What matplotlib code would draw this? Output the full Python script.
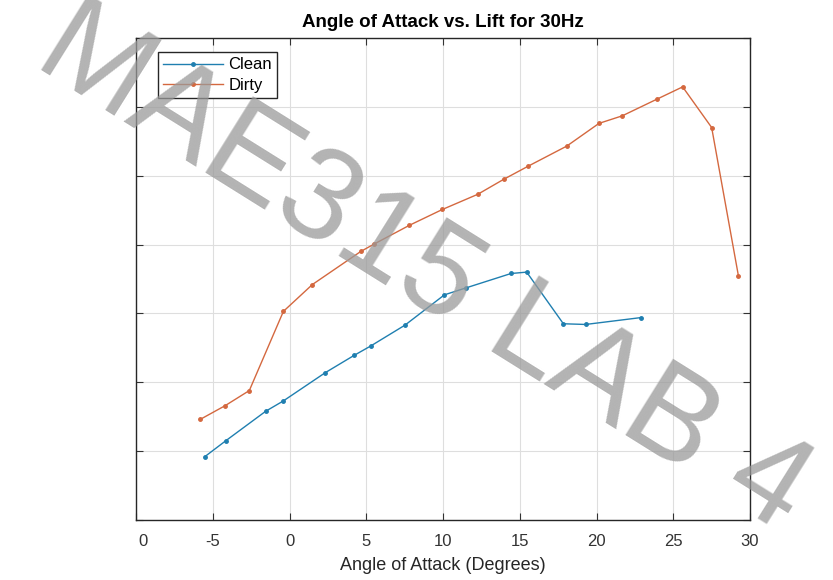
import matplotlib.pyplot as plt
import matplotlib.transforms as mtransforms
import numpy as np

plt.rcParams['font.family'] = ['Liberation Sans', 'DejaVu Sans']

# angle of attack (deg) and lift (arbitrary units, y labels not shown)
aoa_clean = [-5.52, -4.16, -1.55, -0.40, 2.33, 4.20, 5.31, 7.52, 10.09, 11.48,
             14.43, 15.45, 17.84, 19.29, 22.90]
lift_clean = [0.92, 1.15, 1.58, 1.73, 2.14, 2.39, 2.53, 2.83, 3.27, 3.37,
              3.58, 3.60, 2.85, 2.84, 2.94]

aoa_dirty = [-5.83, -4.20, -2.62, -0.40, 1.49, 4.64, 5.53, 7.81, 9.96, 12.26,
             13.97, 15.56, 18.06, 20.16, 21.68, 23.92, 25.61, 27.50, 29.24]
lift_dirty = [1.46, 1.66, 1.88, 3.03, 3.42, 3.90, 4.01, 4.28, 4.51, 4.73,
              4.95, 5.14, 5.43, 5.76, 5.87, 6.11, 6.29, 5.70, 3.55]

xticks = [-10, -5, 0, 5, 10, 15, 20, 25, 30]
xticklabels = ['0', '-5', '0', '5', '10', '15', '20', '25', '30']

fig = plt.figure(figsize=(8.33, 5.8), dpi=100)
ax = fig.add_axes([0.1633, 0.1034, 0.7371, 0.8311])

ax.plot(aoa_clean, lift_clean, color='#1f7fb0', lw=1.0, marker='.', ms=5, label='Clean')
ax.plot(aoa_dirty, lift_dirty, color='#d4683f', lw=1.0, marker='.', ms=5, label='Dirty')

ax.set_xlim(-10, 30)
ax.set_ylim(0, 7)
ax.set_xticks(xticks)
ax.set_xticklabels(xticklabels)
ax.set_yticks(np.arange(0, 8, 1))
ax.set_yticklabels([])
ax.tick_params(direction='in', top=True, right=True, length=5, width=0.8,
               labelsize=12, colors='#333333', pad=10)
ax.grid(True, color='#dedede', lw=0.8)
for s in ax.spines.values():
    s.set_color('#262626')
    s.set_linewidth(1.0)

# first label sits a bit right of the axis edge in the original
first = ax.get_xticklabels()[0]
first.set_transform(first.get_transform() + mtransforms.ScaledTranslation(0.07, 0, fig.dpi_scale_trans))

ax.set_title('Angle of Attack vs. Lift for 30Hz', fontsize=13.5, fontweight='bold', pad=8)
ax.set_xlabel('Angle of Attack (Degrees)', fontsize=13, color='#262626', labelpad=6)

leg = ax.legend(loc='upper left', fontsize=12, handlelength=3.6, fancybox=False,
                edgecolor='#262626', framealpha=1, borderpad=0.3, labelspacing=0.35,
                handletextpad=0.3, borderaxespad=0, bbox_to_anchor=(0.036, 0.97))
leg.get_frame().set_linewidth(1.0)

# watermark
fig.text(0.508, 0.535, 'MAE315 LAB 4', fontsize=93, color='#9a9a9a', alpha=0.75,
         rotation=-32, ha='center', va='center', rotation_mode='anchor', zorder=10)

fig.savefig('out.png', dpi=100)
